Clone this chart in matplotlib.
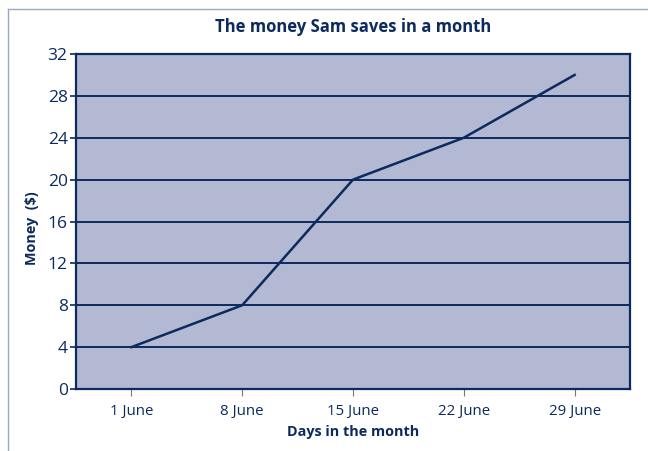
import matplotlib
matplotlib.use("Agg")
import matplotlib.pyplot as plt
from matplotlib.lines import Line2D

days = ["1 June", "8 June", "15 June", "22 June", "29 June"]
money = [4, 8, 20, 24, 30]
yticks = [0, 4, 8, 12, 16, 20, 24, 28, 32]

navy = "#0c2a5e"
fill = "#b3b8d3"
plt.rcParams['font.family'] = ['Open Sans', 'DejaVu Sans']

W, H = 648, 451
fig = plt.figure(figsize=(W / 100, H / 100), dpi=100)
ax = fig.add_axes([76 / W, 1 - 389 / H, (630 - 76) / W, (389 - 54) / H])
ax.set_facecolor(fill)

x = list(range(len(days)))
ax.set_xlim(-0.5, len(days) - 0.5)
ax.set_ylim(0, 32)
for y in yticks[1:]:
    ax.axhline(y, color=navy, lw=1.4, zorder=1)
ax.plot(x, money, color=navy, lw=1.8, zorder=3)

ax.set_yticks(yticks)
ax.set_xticks(x)
ax.set_xticklabels(days)
ax.tick_params(axis='y', length=4, width=1.2, color=navy, labelcolor=navy,
               labelsize=12.5, pad=2)
ax.tick_params(axis='x', length=5, width=0.8, color="#777777", labelcolor=navy,
               labelsize=10.8, pad=6)
for s in ax.spines.values():
    s.set_color(navy)
    s.set_linewidth(1.6)

ax.set_title("The money Sam saves in a month", fontsize=12, fontweight='bold',
             color=navy, pad=16)
ax.set_xlabel("Days in the month", fontsize=10.4, fontweight='bold', color=navy,
              labelpad=4)
ax.set_ylabel("Money  ($)", fontsize=10.4, fontweight='bold', color=navy)
ax.yaxis.set_label_coords(-0.066, 0.48)

# thin outer frame
fig.add_artist(Line2D([8 / W, 8 / W], [0, 1 - 9 / H], color="#9aa6c9", lw=1))
fig.add_artist(Line2D([8 / W, 1], [1 - 9 / H, 1 - 9 / H], color="#9aa6c9", lw=1))

fig.savefig("out.png", dpi=100)
